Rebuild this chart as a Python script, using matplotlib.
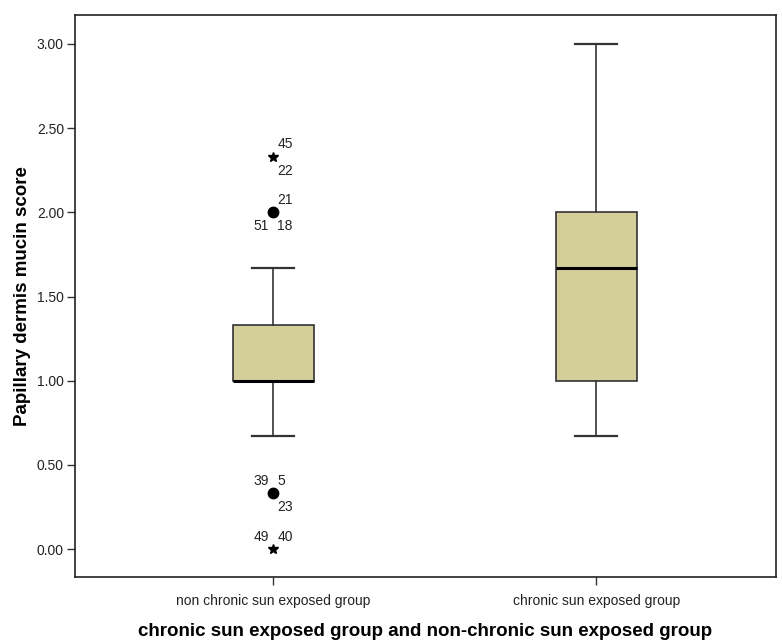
import matplotlib
matplotlib.use("Agg")
import matplotlib.pyplot as plt

plt.rcParams['font.family'] = ['Liberation Sans', 'DejaVu Sans']

groups = ["non chronic sun exposed group", "chronic sun exposed group"]
whislo = [0.67, 0.67]
q1 = [1.00, 1.00]
med = [1.00, 1.67]
q3 = [1.33, 2.00]
whishi = [1.67, 3.00]

# outliers of group 1: value, marker, labels (text, side, vertical)
out_values = [2.33, 2.00, 0.33, 0.00]
out_markers = ["*", "o", "o", "*"]
out_labels = [
    [("45", "r", "u"), ("22", "r", "d")],
    [("21", "r", "u"), ("51", "l", "d"), ("18", "r", "d")],
    [("39", "l", "u"), ("5", "r", "u"), ("23", "r", "d")],
    [("49", "l", "u"), ("40", "r", "u")],
]

yticks = [0.0, 0.5, 1.0, 1.5, 2.0, 2.5, 3.0]

fig = plt.figure(figsize=(7.82, 6.4), dpi=100)
ax = fig.add_axes([75/782, 1-577/640, 701/782, (577-15)/640])

stats = []
for i in range(len(groups)):
    stats.append(dict(whislo=whislo[i], q1=q1[i], med=med[i], q3=q3[i],
                      whishi=whishi[i], fliers=[], label=groups[i]))

ax.bxp(stats, positions=[1, 2], widths=0.25, patch_artist=True,
       showfliers=False, capwidths=0.13,
       boxprops=dict(facecolor="#D3CE9A", edgecolor="#333333", linewidth=1.2),
       medianprops=dict(color="black", linewidth=2.2),
       whiskerprops=dict(color="#333333", linewidth=1.2),
       capprops=dict(color="#333333", linewidth=1.6))

for v, m, labs in zip(out_values, out_markers, out_labels):
    if m == "o":
        ax.plot([1], [v], marker="o", color="black", markersize=7.5, linestyle="none")
    else:
        ax.plot([1], [v], marker="*", color="black", markersize=7.5, linestyle="none")
    for txt, side, vert in labs:
        dx = 3 if side == "r" else -3
        dy = 9 if vert == "u" else -10
        ax.annotate(txt, (1, v), xytext=(dx, dy), textcoords="offset points",
                    ha="left" if side == "r" else "right", va="center",
                    fontsize=10, color="#222222")

ax.set_xlim(0.387, 2.556)
ax.set_ylim(-0.166, 3.172)
ax.set_xticks([1, 2])
ax.set_xticklabels(groups, fontsize=10)
ax.set_yticks(yticks)
ax.set_yticklabels([f"{t:.2f}" for t in yticks], fontsize=10)
ax.tick_params(axis="both", length=6, width=1, color="#333333", labelcolor="#222222")
ax.tick_params(axis="x", pad=6)
ax.tick_params(axis="y", pad=2)
for s in ax.spines.values():
    s.set_linewidth(1.2)
    s.set_color("#222222")

ax.set_ylabel("Papillary dermis mucin score", fontsize=13.5, fontweight="bold", labelpad=4)
ax.set_xlabel("chronic sun exposed group and non-chronic sun exposed group",
              fontsize=13.5, fontweight="bold", labelpad=11)

fig.savefig("out.png", dpi=100)
